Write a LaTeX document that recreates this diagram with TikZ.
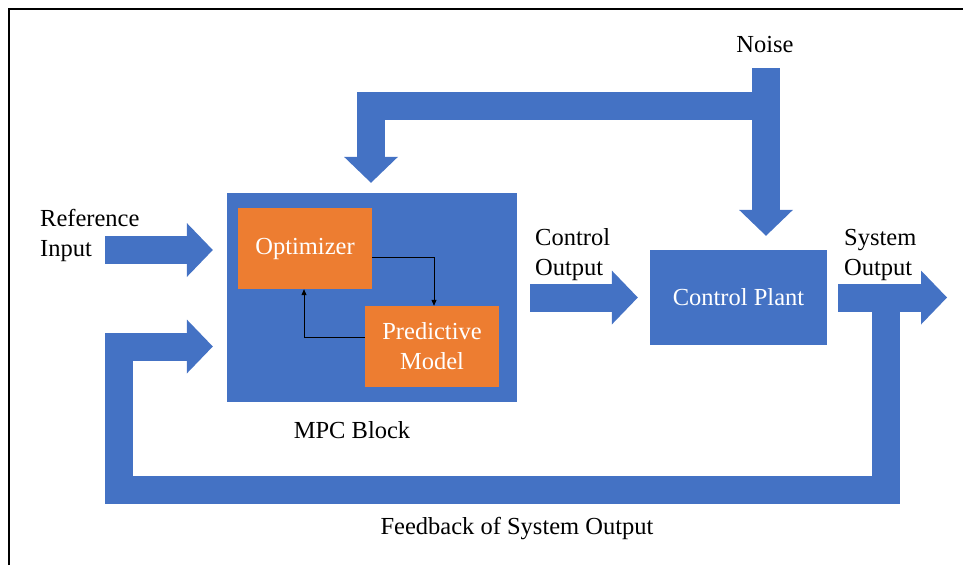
\documentclass[tikz,border=0pt]{standalone}
\usepackage{fontspec}
\setmainfont{Liberation Serif}
\usepackage{tikz}
\usetikzlibrary{arrows.meta}
\definecolor{mpcblue}{HTML}{4472C4}
\definecolor{mpcorange}{HTML}{ED7D31}
\tikzstyle{block}=[rectangle, fill=mpcblue, text=white, inner sep=0pt, align=center]
\tikzstyle{subblock}=[rectangle, fill=mpcorange, text=white, inner sep=0pt, align=center, minimum width=134pt, minimum height=81pt]
\tikzstyle{txt}=[inner sep=0pt, align=center]
\tikzstyle{bigarrow}=[draw=mpcblue, line width=28pt, line join=miter, -{Triangle[width=54pt,length=26pt,line width=0pt]}]
\tikzstyle{thinarrow}=[draw=black, line width=0.8pt, -{Triangle[width=5pt,length=6pt]}]
\newcommand{\block}{\node[block]}

\begin{document}
\begin{tikzpicture}[x=1pt, y=-1pt, every node/.style={font=\fontsize{24.5}{30}\selectfont}]
\useasboundingbox (0,0) rectangle (963,565);
\draw[line width=2pt] (9,565) -- (9,9) -- (963,9);
\block (mpc) at (372,297.5) [minimum width=290pt, minimum height=209pt] {};
\node[subblock] (opt) at (305,248.5) {Optimizer};
\node[subblock] (pred) at (432,346.5) {Predictive\\Model};
\block (plant) at (738.5,297.5) [minimum width=177pt, minimum height=95pt] {Control Plant};
\node[txt] (noise) at (765,45) {Noise};
\node[txt, align=left, anchor=west] (refinput) at (40,235) {Reference\\Input};
\node[txt, align=left, anchor=west] (ctrlout) at (535,255) {Control\\Output};
\node[txt, align=left, anchor=west] (sysout) at (844,255) {System\\Output};
\node[txt] (mpclabel) at (352,430) {MPC Block};
\node[txt] (fblabel) at (517,529) {Feedback of System Output};
\coordinate (refin) at (105,250);
\coordinate (sysend) at (947,297.5);
\coordinate (noisein) at (766,68);
\coordinate (nbend) at (371,105.5);
\coordinate (fbtop) at (886,297.5);
\coordinate (fbright) at (886,490);
\coordinate (fbleft) at (119,490);
\coordinate (fbup) at (119,346.5);
% inside the MPC block
\draw[thinarrow] ([yshift=-8.5pt]opt.east) -| ([xshift=2pt]pred.north);
\draw[thinarrow] ([yshift=9.5pt]pred.west) -| ([xshift=-1pt]opt.south);
% wide arrows
\draw[bigarrow, shorten >=14pt] (refin) -- (refin -| mpc.west);
\draw[bigarrow, shorten <=13pt, shorten >=12pt] (mpc.east) -- (plant.west);
\draw[bigarrow, shorten <=11pt] (plant.east) -- (sysend);
\draw[bigarrow, shorten >=14pt] (fbtop) -- (fbright) -- (fbleft) -- (fbup) -- (fbup -| mpc.west);
\draw[bigarrow, shorten >=14pt] (noisein) -- (noisein |- plant.north);
\draw[bigarrow, shorten >=10pt] (noisein |- nbend) -- (nbend) -- (nbend |- mpc.north);
\end{tikzpicture}
\end{document}
